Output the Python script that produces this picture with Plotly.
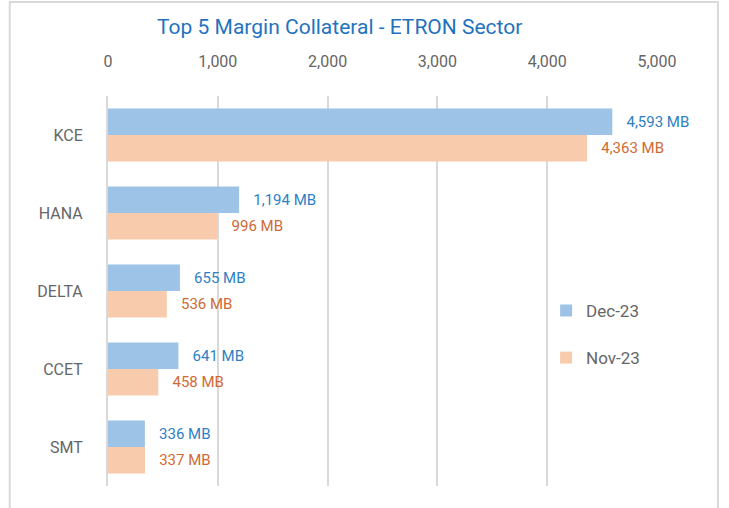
import plotly.graph_objects as go

categories = ["KCE", "HANA", "DELTA", "CCET", "SMT"]
dec23 = [4593, 1194, 655, 641, 336]
nov23 = [4363, 996, 536, 458, 337]
tick_vals = [0, 1000, 2000, 3000, 4000, 5000]
tick_text = ["0", "1,000", "2,000", "3,000", "4,000", "5,000"]

FONT = "Roboto"

fig = go.Figure()
fig.add_trace(go.Bar(
    y=categories, x=dec23, orientation="h", name="Dec-23",
    marker=dict(color="#9DC3E6", line=dict(width=0)),
    text=[f"{v:,} MB" for v in dec23], texttemplate="   %{text}",
    textposition="outside", cliponaxis=False,
    textfont=dict(color="#2E7FC4", size=15, family=FONT),
    legendgroup="a", hoverinfo="skip",
))
fig.add_trace(go.Bar(
    y=categories, x=nov23, orientation="h", name="Nov-23",
    marker=dict(color="#F8CBAD", line=dict(width=0)),
    text=[f"{v:,} MB" for v in nov23], texttemplate="   %{text}",
    textposition="outside", cliponaxis=False,
    textfont=dict(color="#D06A35", size=15, family=FONT),
    legendgroup="b", hoverinfo="skip",
))

fig.update_layout(
    width=729, height=508,
    margin=dict(l=108, r=72, t=96, b=22),
    paper_bgcolor="white", plot_bgcolor="white",
    barmode="group", bargap=0.32, bargroupgap=0,
    font=dict(family=FONT, color="#595959"),
    title=dict(text="Top 5 Margin Collateral - ETRON Sector",
               x=0.466, xanchor="center", y=0.948, yanchor="middle",
               font=dict(size=21, color="#1F73BE", family=FONT)),
    xaxis=dict(side="top", range=[0, 5000], tickvals=tick_vals, ticktext=tick_text,
               showgrid=True, gridcolor="#D9D9D9", gridwidth=2, zeroline=False,
               showline=False, ticks="outside", ticklen=22, tickcolor="rgba(0,0,0,0)",
               tickfont=dict(size=16, color="#666666")),
    yaxis=dict(autorange="reversed", showgrid=False, zeroline=False,
               showline=True, linecolor="#D9D9D9", linewidth=2,
               ticks="outside", ticklen=20, tickcolor="rgba(0,0,0,0)",
               tickfont=dict(size=16, color="#666666")),
    legend=dict(x=0.798, y=0.495, xanchor="left", yanchor="top",
                traceorder="grouped", tracegroupgap=22,
                font=dict(size=17, color="#666666"), bgcolor="rgba(0,0,0,0)"),
    showlegend=True,
)

fig.add_shape(type="rect", xref="paper", yref="paper",
              x0=-0.179, x1=1.111, y0=-0.08, y1=1.241,
              line=dict(color="#D9D9D9", width=2), fillcolor="rgba(0,0,0,0)", layer="below")

fig.write_html("out.html", config={"displayModeBar": False},
               post_script="document.body.style.margin='0';document.body.style.overflow='hidden';")
